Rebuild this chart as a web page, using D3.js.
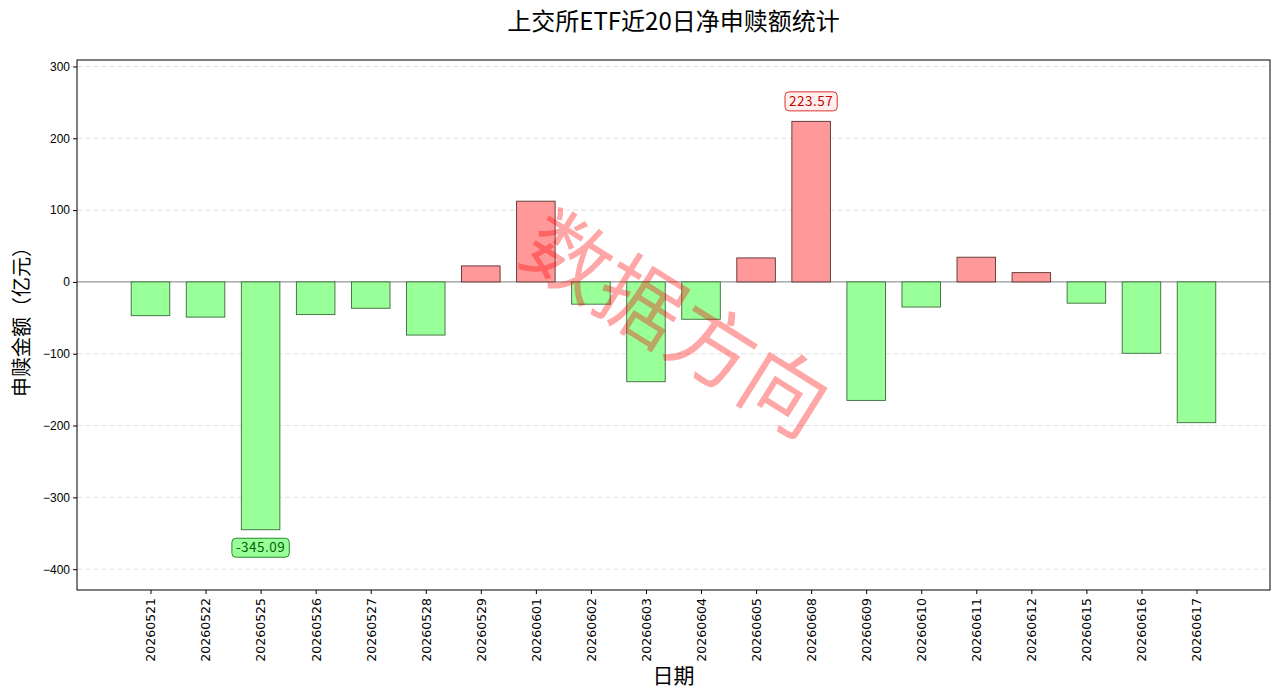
<!DOCTYPE html>
<html>
<head>
<meta charset="utf-8">
<script src="https://cdn.jsdelivr.net/npm/d3@7/dist/d3.min.js"></script>
<style>
  body { margin: 0; background: #fff; }
  svg { display: block; font-family: "Noto Sans CJK SC", "Liberation Sans", sans-serif; }
</style>
</head>
<body>
<div id="chart"></div>
<script>
// data
var dates = ['20260521','20260522','20260525','20260526','20260527','20260528','20260529',
  '20260601','20260602','20260603','20260604','20260605','20260608','20260609','20260610',
  '20260611','20260612','20260615','20260616','20260617'];
var netFlow = [-47, -49, -345.09, -45.5, -36.7, -74, 22.3, 112.4, -31, -139, -52, 33.4,
  223.57, -165, -35, 34.4, 12.9, -29.6, -99.4, -196];
var yTicks = [-400, -300, -200, -100, 0, 100, 200, 300];
var yDomain = [-429, 309];

var width = 1280, height = 696;
var margin = {top: 60, right: 10, bottom: 106, left: 77};

var svg = d3.select('#chart').append('svg')
  .attr('width', width)
  .attr('height', height);

// linear x scale, matplotlib style margins
var x = d3.scaleLinear()
  .domain([-1.335, dates.length - 1 + 1.335])
  .range([margin.left, width - margin.right]);
var y = d3.scaleLinear()
  .domain(yDomain)
  .range([height - margin.bottom, margin.top]);
var barW = x(0.7) - x(0);

// grid
svg.append('g').selectAll('line')
  .data(yTicks.filter(function(d){ return d !== 0; }))
  .enter().append('line')
  .attr('x1', margin.left).attr('x2', width - margin.right)
  .attr('y1', function(d){ return y(d); }).attr('y2', function(d){ return y(d); })
  .attr('stroke', '#d8d8d8')
  .attr('stroke-width', 0.8)
  .attr('stroke-dasharray', '5,3');

// zero line
svg.append('line')
  .attr('x1', margin.left).attr('x2', width - margin.right)
  .attr('y1', y(0)).attr('y2', y(0))
  .attr('stroke', '#999').attr('stroke-width', 1.2);

// bars
svg.append('g').selectAll('rect')
  .data(netFlow)
  .enter().append('rect')
  .attr('x', function(d, i){ return x(i) - barW / 2; })
  .attr('y', function(d){ return y(Math.max(0, d)); })
  .attr('width', barW)
  .attr('height', function(d){ return Math.abs(y(d) - y(0)); })
  .attr('fill', function(d){ return d >= 0 ? '#ff9999' : '#99ff99'; })
  .attr('stroke', function(d){ return d >= 0 ? '#5a3030' : '#3a6a3a'; })
  .attr('stroke-width', 0.9);

// axes
var yAxis = d3.axisLeft(y).tickValues(yTicks).tickSize(4).tickPadding(3);
var gy = svg.append('g')
  .attr('transform', 'translate(' + margin.left + ',0)')
  .call(yAxis);
gy.select('.domain').remove();
gy.selectAll('text').attr('font-size', 12).attr('fill', '#000')
  .style('font-family', '"Liberation Sans", sans-serif');

var xAxis = d3.axisBottom(x).tickValues(d3.range(dates.length))
  .tickFormat(function(i){ return dates[i]; }).tickSize(4).tickPadding(3);
var gx = svg.append('g')
  .attr('transform', 'translate(0,' + (height - margin.bottom) + ')')
  .call(xAxis);
gx.select('.domain').remove();
gx.selectAll('text')
  .attr('font-size', 12.5).attr('fill', '#000')
  .style('font-family', '"DejaVu Sans", sans-serif')
  .attr('transform', 'rotate(-90)')
  .attr('text-anchor', 'end')
  .attr('x', -8).attr('y', 0).attr('dy', '0.35em');

// frame
svg.append('rect')
  .attr('x', margin.left).attr('y', margin.top)
  .attr('width', width - margin.left - margin.right)
  .attr('height', height - margin.top - margin.bottom)
  .attr('fill', 'none').attr('stroke', '#000').attr('stroke-width', 1);

// labels for max / min
var iMax = netFlow.indexOf(d3.max(netFlow));
var iMin = netFlow.indexOf(d3.min(netFlow));
var notes = [
  {i: iMax, dy: -20, fill: '#fff0f0', stroke: '#e03030', color: '#cc0000'},
  {i: iMin, dy: 18, fill: '#99ff99', stroke: '#2a8a2a', color: '#006400'}
];
notes.forEach(function(n){
  var v = netFlow[n.i];
  var cx = x(n.i), cy = y(v) + n.dy;
  var g = svg.append('g');
  var t = g.append('text')
    .attr('x', cx).attr('y', cy).attr('dy', '0.35em')
    .attr('text-anchor', 'middle')
    .attr('font-size', 13.5)
    .attr('letter-spacing', 0.5)
    .attr('fill', n.color)
    .text(v.toFixed(2));
  var bb = t.node().getBBox();
  g.insert('rect', 'text')
    .attr('x', bb.x - 4).attr('y', cy - 9.5)
    .attr('width', bb.width + 8).attr('height', 19)
    .attr('rx', 4)
    .attr('fill', n.fill).attr('stroke', n.stroke).attr('stroke-width', 1);
});

// watermark
svg.append('text')
  .attr('transform', 'translate(676,325) rotate(32)')
  .attr('text-anchor', 'middle')
  .attr('dy', '0.35em')
  .attr('font-size', 85)
  .attr('fill', 'red')
  .attr('fill-opacity', 0.35)
  .text('数据方向');

// titles
svg.append('text')
  .attr('x', (margin.left + width - margin.right) / 2).attr('y', 22)
  .attr('dy', '0.35em')
  .attr('text-anchor', 'middle')
  .attr('font-size', 24)
  .text('上交所ETF近20日净申赎额统计');

svg.append('text')
  .attr('x', (margin.left + width - margin.right) / 2).attr('y', 676)
  .attr('dy', '0.35em')
  .attr('text-anchor', 'middle')
  .attr('font-size', 21)
  .text('日期');

svg.append('text')
  .attr('transform', 'translate(22,' + ((margin.top + height - margin.bottom) / 2 - 8) + ') rotate(-90)')
  .attr('dy', '0.35em')
  .attr('text-anchor', 'middle')
  .attr('font-size', 20)
  .text('申赎金额（亿元）');
</script>
</body>
</html>
